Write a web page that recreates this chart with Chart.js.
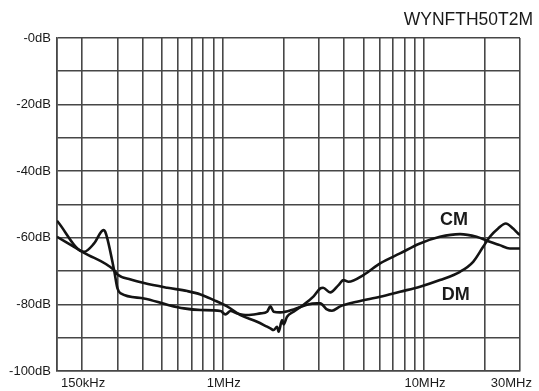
<!DOCTYPE html>
<html lang="es">
<head>
<meta charset="UTF-8">
<title>WYNFTH50T2M</title>
<script src="https://cdn.jsdelivr.net/npm/chart.js@4.4.1/dist/chart.umd.min.js"></script>
<style>
    html, body { margin: 0; padding: 0; background: #ffffff; }
    #contenedor { position: relative; width: 539px; height: 391px; }
</style>
</head>
<body>
<div id="contenedor"><canvas id="graficoAtenuacion"></canvas></div>
<script>
// Curvas (frecuencia en MHz, atenuación en dB)
const frecuenciasCM = [0.15, 0.2046, 0.2882, 0.2996, 0.3485, 0.4058, 0.5301, 0.6661, 0.775, 0.9025, 1.051, 1.224, 1.481, 1.66, 1.724, 1.79, 1.861, 1.895, 1.97, 2.006, 2.086, 2.249, 2.521, 2.827, 3.051, 3.15, 3.42, 3.759, 3.98, 4.214, 5.0, 6.05, 7.6, 9.55, 12.0, 15.1, 18.25, 21.25, 23.8, 26.7, 30];
const valoresCM = [-59.7, -64.5, -69.7, -71.0, -72.5, -73.6, -75.0, -76.0, -77.0, -78.7, -80.6, -83.2, -85.2, -86.7, -87.2, -87.7, -86.7, -88.2, -84.7, -86.0, -83.7, -82.2, -80.1, -77.6, -75.2, -75.0, -76.4, -74.2, -72.7, -73.2, -71.2, -67.7, -64.7, -61.7, -59.7, -58.9, -59.7, -61.2, -62.2, -63.2, -63.2];

const frecuenciasDM = [0.15, 0.2046, 0.2293, 0.2553, 0.2624, 0.2882, 0.2996, 0.3111, 0.4058, 0.5301, 0.6407, 0.775, 0.9741, 1.031, 1.092, 1.179, 1.321, 1.538, 1.66, 1.724, 1.79, 1.932, 2.249, 2.62, 2.938, 3.051, 3.293, 3.487, 3.832, 4.638, 6.05, 7.6, 9.55, 12.0, 15.1, 17.55, 19.68, 21.25, 23.36, 25.5, 27.72, 29.35, 30];
const valoresDM = [-54.9, -64.2, -61.7, -57.7, -58.7, -69.7, -75.2, -76.7, -78.2, -80.1, -81.2, -81.7, -82.0, -83.0, -82.0, -82.7, -83.2, -82.7, -82.2, -80.6, -82.2, -82.4, -81.5, -80.1, -79.7, -79.7, -81.5, -81.9, -80.6, -79.2, -77.7, -76.2, -74.7, -72.7, -70.2, -67.2, -62.7, -59.7, -57.2, -55.7, -57.2, -58.7, -59.2];

// Rejilla y etiquetas de los ejes
const marcasX = [0.15, 0.2, 0.3, 0.4, 0.5, 0.6, 0.7, 0.8, 0.9, 1, 2, 3, 4, 5, 6, 7, 8, 9, 10, 20, 30];
const etiquetasX = ['150kHz', '1MHz', '10MHz', '30MHz'];
const valoresEtiquetasX = [0.2, 1, 10, 30];
const marcasY = [-100, -90, -80, -70, -60, -50, -40, -30, -20, -10, 0];
const titulo = 'WYNFTH50T2M';

document.addEventListener('DOMContentLoaded', function () {
    const fuente = '"Liberation Sans", Arial, Helvetica, sans-serif';
    const colorTexto = '#1a1a1a';
    const colorRejilla = '#474747';

    function puntos(frecuencias, valores) {
        return frecuencias.map((f, i) => ({ x: f, y: valores[i] }));
    }

    // Textos que no son ticks normales: título, etiquetas X y nombres de curvas
    const textosExtra = {
        id: 'textosExtra',
        afterDraw(chart) {
            const ctx = chart.ctx;
            const ejeX = chart.scales.x;
            const ejeY = chart.scales.y;
            ctx.save();
            ctx.fillStyle = colorTexto;

            ctx.font = '17.5px ' + fuente;
            ctx.textAlign = 'right';
            ctx.textBaseline = 'middle';
            ctx.fillText(titulo, chart.width - 6, 20);

            ctx.font = '13px ' + fuente;
            valoresEtiquetasX.forEach((v, i) => {
                const ultimo = i === valoresEtiquetasX.length - 1;
                ctx.textAlign = ultimo ? 'right' : 'center';
                const px = ultimo ? chart.width - 7 : ejeX.getPixelForValue(v) + 1;
                ctx.fillText(etiquetasX[i], px, ejeY.bottom + 12);
            });

            ctx.font = 'bold 18px ' + fuente;
            ctx.textAlign = 'center';
            ctx.fillText('CM', ejeX.getPixelForValue(14.1), ejeY.getPixelForValue(-54.6));
            ctx.fillText('DM', ejeX.getPixelForValue(14.4), ejeY.getPixelForValue(-77.2));
            ctx.restore();
        }
    };

    const ctx = document.getElementById('graficoAtenuacion').getContext('2d');

    new Chart(ctx, {
        type: 'line',
        data: {
            datasets: [
                {
                    label: 'CM',
                    data: puntos(frecuenciasCM, valoresCM),
                    borderColor: '#141414',
                    borderWidth: 2.6,
                    pointRadius: 0,
                    cubicInterpolationMode: 'monotone'
                },
                {
                    label: 'DM',
                    data: puntos(frecuenciasDM, valoresDM),
                    borderColor: '#141414',
                    borderWidth: 2.6,
                    pointRadius: 0,
                    cubicInterpolationMode: 'monotone'
                }
            ]
        },
        options: {
            responsive: true,
            maintainAspectRatio: false,
            animation: false,
            layout: { padding: { top: 38, right: 19, left: 0, bottom: 0 } },
            plugins: {
                legend: { display: false },
                tooltip: { enabled: false }
            },
            scales: {
                x: {
                    type: 'logarithmic',
                    min: 0.15,
                    max: 30,
                    afterBuildTicks: escala => { escala.ticks = marcasX.map(v => ({ value: v })); },
                    afterFit: escala => { escala.height = 20; },
                    ticks: { display: false, autoSkip: false },
                    grid: { color: colorRejilla, lineWidth: 1.6, drawTicks: false },
                    border: { color: colorRejilla, width: 1.6 }
                },
                y: {
                    min: -100,
                    max: 0,
                    afterBuildTicks: escala => { escala.ticks = marcasY.map(v => ({ value: v })); },
                    afterFit: escala => { escala.width = 57; },
                    ticks: {
                        autoSkip: false,
                        padding: 6,
                        color: colorTexto,
                        font: { family: fuente, size: 13 },
                        callback: v => (v % 20 === 0 ? '-' + Math.abs(v) + 'dB' : '')
                    },
                    grid: { color: colorRejilla, lineWidth: 1.6, drawTicks: false },
                    border: { color: colorRejilla, width: 1.6 }
                }
            }
        },
        plugins: [textosExtra]
    });
});
</script>
</body>
</html>
